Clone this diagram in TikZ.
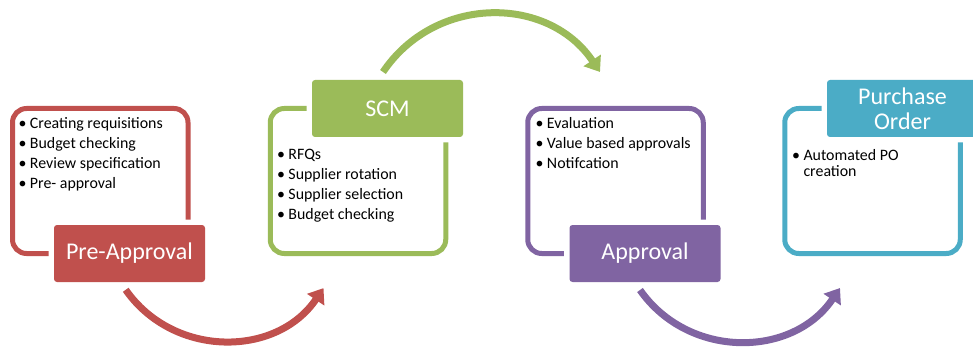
\documentclass[tikz,border=0pt]{standalone}
\usepackage{fontspec}
\setmainfont{Carlito}
\usetikzlibrary{arrows.meta}
\definecolor{preRed}{HTML}{C0504D}
\definecolor{scmGreen}{HTML}{9BBB59}
\definecolor{apprPurple}{HTML}{8064A2}
\definecolor{poBlue}{HTML}{4BACC6}
\newcommand{\bul}[1]{\makebox[11.3pt][l]{\textbullet}#1}
\tikzset{
	listframe/.style={draw=#1, line width=5pt, rounded corners=14pt, minimum width=175.5pt, minimum height=145pt, inner sep=0pt},
	headbox/.style={fill=#1, text=white, rounded corners=3pt, minimum width=151pt, minimum height=57pt, inner sep=0pt, align=center, font=\fontsize{24}{25}\selectfont, preaction={draw=white, line width=11pt}},
	bullets/.style={anchor=north west, inner sep=0pt, align=left, font=\fontsize{15.9}{16}\selectfont},
	flowarrow/.style={draw=#1, line width=7pt, -{Triangle[width=20pt,length=14pt]}, looseness=1.08},
}

\begin{document}
\begin{tikzpicture}[x=1pt, y=1pt]
			%%%%% START %%%%%
			\useasboundingbox (0, 0) rectangle (973, 351);
			
			\node[listframe=preRed] (preframe) at (100.25, 170) {};
			\node[headbox=preRed] (pre) at (129.5, 97.5) {Pre-Approval};
			\node[bullets] (prelist) at (18.5, 233.5) {\bul{Creating requisitions}\\[4pt]\bul{Budget checking}\\[4pt]\bul{Review specification}\\[4pt]\bul{Pre- approval}};
			
			\node[listframe=scmGreen] (scmframe) at (358, 170) {};
			\node[headbox=scmGreen] (scm) at (387.5, 242.5) {SCM};
			\node[bullets] (scmlist) at (277, 202) {\bul{RFQs}\\[4pt]\bul{Supplier rotation}\\[4pt]\bul{Supplier selection}\\[4pt]\bul{Budget checking}};
			
			\node[listframe=apprPurple] (apprframe) at (615.5, 170) {};
			\node[headbox=apprPurple] (appr) at (645, 97.5) {Approval};
			\node[bullets] (apprlist) at (535.5, 233.5) {\bul{Evaluation}\\[4pt]\bul{Value based approvals}\\[4pt]\bul{Notifcation}};
			
			\node[listframe=poBlue] (poframe) at (872.5, 170) {};
			\node[headbox=poBlue] (po) at (902.5, 242.5) {Purchase\\Order};
			\node[bullets] (polist) at (792, 202) {\bul{Automated PO}\\\hspace{11.3pt}creation};
			
			%%%%% ARROWS %%%%%
			\coordinate (preout) at (125.7, 61.2);
			\coordinate (scmin) at (323.5, 62.9);
			\coordinate (scmout) at (383, 279);
			\coordinate (apprin) at (600, 279);
			\coordinate (approut) at (640, 61);
			\coordinate (poin) at (840, 63);
			
			\draw[flowarrow=preRed] (preout) to[out=-55, in=-124] (scmin);
			\draw[flowarrow=scmGreen, looseness=1.1] (scmout) to[out=56, in=124] (apprin);
			\draw[flowarrow=apprPurple] (approut) to[out=-55, in=-124] (poin);
			
			%%%%% END %%%%%
\end{tikzpicture}
\end{document}
